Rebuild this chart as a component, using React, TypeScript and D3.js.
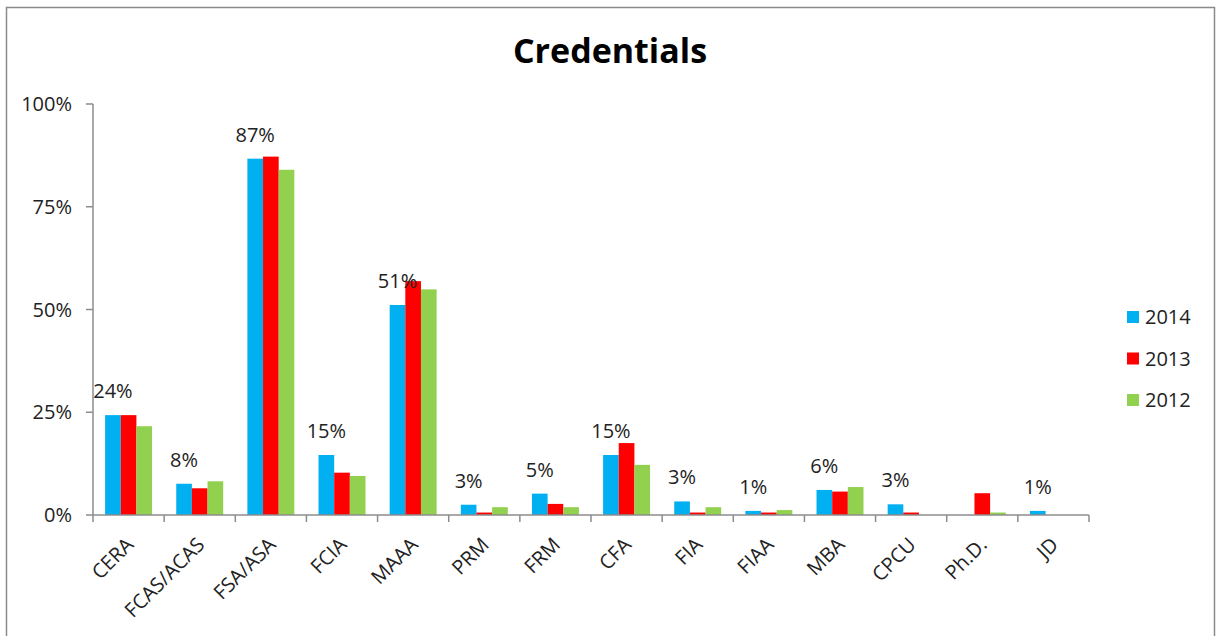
import * as d3 from "d3";
import { useEffect, useRef } from "react";

const categories = ["CERA", "FCAS/ACAS", "FSA/ASA", "FCIA", "MAAA", "PRM", "FRM", "CFA", "FIA", "FIAA", "MBA", "CPCU", "Ph.D.", "JD"];
const years = ["2014", "2013", "2012"];
const values2014 = [24.3, 7.6, 86.7, 14.6, 51.1, 2.5, 5.2, 14.6, 3.3, 1.0, 6.1, 2.6, 0, 1.0];
const values2013 = [24.3, 6.5, 87.2, 10.3, 56.9, 0.6, 2.7, 17.5, 0.6, 0.6, 5.7, 0.6, 5.3, 0];
const values2012 = [21.6, 8.2, 84.0, 9.5, 54.9, 1.9, 1.9, 12.2, 1.9, 1.2, 6.8, 0, 0.6, 0];
const yTicks = [0, 25, 50, 75, 100];

const colors = ["#00B0F0", "#FF0000", "#92D050"];
const FONT = "'Open Sans', sans-serif";

export default function App() {
  const ref = useRef<SVGSVGElement | null>(null);

  useEffect(() => {
    if (!ref.current) return;
    const width = 1216;
    const height = 636;
    const margin = { top: 104, right: 127, bottom: 121, left: 93 };
    const innerW = 1089 - margin.left;
    const innerH = 515 - margin.top;

    const svg = d3.select(ref.current);
    svg.selectAll("*").remove();

    // chart frame
    svg.append("rect")
      .attr("x", 6.5).attr("y", 7.5)
      .attr("width", 1208).attr("height", height + 10)
      .attr("fill", "#fff").attr("stroke", "#8a8a8a").attr("stroke-width", 1.5);

    svg.append("text")
      .attr("x", 610).attr("y", 63)
      .attr("text-anchor", "middle")
      .style("font-family", FONT).style("font-weight", 700).style("font-size", "34px")
      .attr("fill", "#000")
      .text("Credentials");

    const g = svg.append("g").attr("transform", `translate(${margin.left},${margin.top})`);

    const x = d3.scaleBand().domain(categories).range([0, innerW]).paddingInner(0.34).paddingOuter(0.17);
    const xSub = d3.scaleBand().domain(years).range([0, x.bandwidth()]);
    const y = d3.scaleLinear().domain([0, 100]).range([innerH, 0]);

    const series = [values2014, values2013, values2012];
    const rows = categories.map((c, i) => ({ cat: c, vals: series.map((s) => s[i]) }));

    const groups = g.selectAll("g.grp").data(rows).join("g")
      .attr("class", "grp")
      .attr("transform", (d) => `translate(${x(d.cat)},0)`);

    groups.selectAll("rect").data((d) => d.vals.map((v, k) => ({ v, k }))).join("rect")
      .attr("x", (d) => xSub(years[d.k])!)
      .attr("width", xSub.bandwidth())
      .attr("y", (d) => y(d.v))
      .attr("height", (d) => innerH - y(d.v))
      .attr("fill", (d) => colors[d.k]);

    // data labels on 2014 bars
    g.selectAll("text.lbl").data(rows.filter((d) => d.vals[0] > 0)).join("text")
      .attr("class", "lbl")
      .attr("x", (d) => x(d.cat)! + xSub(years[0])! + xSub.bandwidth() / 2)
      .attr("y", (d) => y(d.vals[0]) - 17)
      .attr("text-anchor", "middle")
      .style("font-family", FONT).style("font-size", "20px")
      .attr("fill", "#222")
      .text((d) => `${Math.round(d.vals[0])}%`);

    const axisColor = "#8c8c8c";

    // x axis with ticks at band boundaries
    g.append("line").attr("x1", 0).attr("x2", innerW).attr("y1", innerH).attr("y2", innerH)
      .attr("stroke", axisColor).attr("stroke-width", 1.5);
    const step = x.step();
    const bounds = d3.range(categories.length + 1).map((i) => i * (innerW / categories.length));
    g.selectAll("line.xt").data(bounds).join("line")
      .attr("class", "xt")
      .attr("x1", (d) => d).attr("x2", (d) => d)
      .attr("y1", innerH).attr("y2", innerH + 7)
      .attr("stroke", axisColor).attr("stroke-width", 1.5);
    void step;

    g.selectAll("text.cat").data(categories).join("text")
      .attr("class", "cat")
      .attr("transform", (d) => `translate(${x(d)! + x.bandwidth() / 2 + 6},${innerH + 31}) rotate(-45)`)
      .attr("text-anchor", "end")
      .style("font-family", FONT).style("font-size", "20px")
      .attr("fill", "#222")
      .text((d) => d);

    // y axis
    g.append("line").attr("x1", 0).attr("x2", 0).attr("y1", 0).attr("y2", innerH)
      .attr("stroke", axisColor).attr("stroke-width", 1.5);
    g.selectAll("line.yt").data(yTicks).join("line")
      .attr("class", "yt")
      .attr("x1", -7).attr("x2", 0)
      .attr("y1", (d) => y(d)).attr("y2", (d) => y(d))
      .attr("stroke", axisColor).attr("stroke-width", 1.5);
    g.selectAll("text.yl").data(yTicks).join("text")
      .attr("class", "yl")
      .attr("x", -21).attr("y", (d) => y(d))
      .attr("dy", "0.35em")
      .attr("text-anchor", "end")
      .style("font-family", FONT).style("font-size", "20px")
      .attr("fill", "#222")
      .text((d) => `${d}%`);

    // legend
    const leg = svg.append("g").attr("transform", "translate(1127,317)");
    const items = leg.selectAll("g").data(years).join("g")
      .attr("transform", (_d, i) => `translate(0,${i * 41.5})`);
    items.append("rect").attr("x", 0).attr("y", -6).attr("width", 12).attr("height", 12)
      .attr("fill", (_d, i) => colors[i]);
    items.append("text").attr("x", 18).attr("y", 0).attr("dy", "0.35em")
      .style("font-family", FONT).style("font-size", "20px")
      .attr("fill", "#222")
      .text((d) => d);

    svg.attr("width", width).attr("height", height);
  }, []);

  return (
    <svg
      ref={ref}
      width={1216}
      height={636}
      style={{ position: "absolute", left: 0, top: 0, display: "block" }}
      role="img"
      aria-label="Credentials"
    />
  );
}
